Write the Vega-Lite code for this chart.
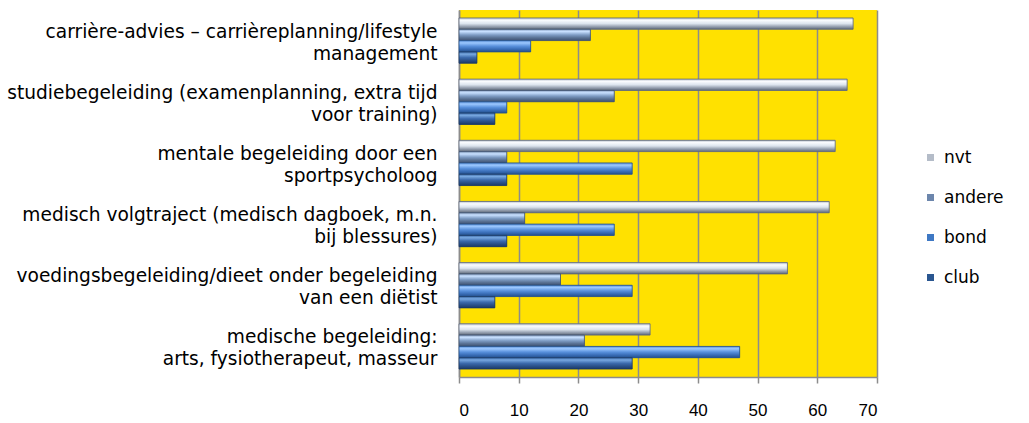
{
  "$schema": "https://vega.github.io/schema/vega-lite/v6.json",
  "autosize": "none",
  "width": 418,
  "height": 367,
  "padding": {"left": 459, "top": 10, "right": 152, "bottom": 46},
  "background": "white",
  "config": {
    "font": "Liberation Sans",
    "view": {"fill": "#FFE100", "stroke": null}
  },
  "data": {
    "values": [
      {"cat": "carrière-advies – carrièreplanning/lifestyle|management", "serie": "nvt", "waarde": 66},
      {"cat": "carrière-advies – carrièreplanning/lifestyle|management", "serie": "andere", "waarde": 22},
      {"cat": "carrière-advies – carrièreplanning/lifestyle|management", "serie": "bond", "waarde": 12},
      {"cat": "carrière-advies – carrièreplanning/lifestyle|management", "serie": "club", "waarde": 3},
      {"cat": "studiebegeleiding (examenplanning, extra tijd|voor training)", "serie": "nvt", "waarde": 65},
      {"cat": "studiebegeleiding (examenplanning, extra tijd|voor training)", "serie": "andere", "waarde": 26},
      {"cat": "studiebegeleiding (examenplanning, extra tijd|voor training)", "serie": "bond", "waarde": 8},
      {"cat": "studiebegeleiding (examenplanning, extra tijd|voor training)", "serie": "club", "waarde": 6},
      {"cat": "mentale begeleiding door een|sportpsycholoog", "serie": "nvt", "waarde": 63},
      {"cat": "mentale begeleiding door een|sportpsycholoog", "serie": "andere", "waarde": 8},
      {"cat": "mentale begeleiding door een|sportpsycholoog", "serie": "bond", "waarde": 29},
      {"cat": "mentale begeleiding door een|sportpsycholoog", "serie": "club", "waarde": 8},
      {"cat": "medisch volgtraject (medisch dagboek, m.n.|bij blessures)", "serie": "nvt", "waarde": 62},
      {"cat": "medisch volgtraject (medisch dagboek, m.n.|bij blessures)", "serie": "andere", "waarde": 11},
      {"cat": "medisch volgtraject (medisch dagboek, m.n.|bij blessures)", "serie": "bond", "waarde": 26},
      {"cat": "medisch volgtraject (medisch dagboek, m.n.|bij blessures)", "serie": "club", "waarde": 8},
      {"cat": "voedingsbegeleiding/dieet onder begeleiding|van een diëtist", "serie": "nvt", "waarde": 55},
      {"cat": "voedingsbegeleiding/dieet onder begeleiding|van een diëtist", "serie": "andere", "waarde": 17},
      {"cat": "voedingsbegeleiding/dieet onder begeleiding|van een diëtist", "serie": "bond", "waarde": 29},
      {"cat": "voedingsbegeleiding/dieet onder begeleiding|van een diëtist", "serie": "club", "waarde": 6},
      {"cat": "medische begeleiding:|arts, fysiotherapeut, masseur", "serie": "nvt", "waarde": 32},
      {"cat": "medische begeleiding:|arts, fysiotherapeut, masseur", "serie": "andere", "waarde": 21},
      {"cat": "medische begeleiding:|arts, fysiotherapeut, masseur", "serie": "bond", "waarde": 47},
      {"cat": "medische begeleiding:|arts, fysiotherapeut, masseur", "serie": "club", "waarde": 29}
    ]
  },
  "encoding": {
    "y": {
      "field": "cat",
      "type": "nominal",
      "sort": null,
      "title": null,
      "scale": {"paddingInner": 0.26, "paddingOuter": 0.13},
      "axis": {
        "labelExpr": "split(datum.label, '|')",
        "labelFont": "DejaVu Sans",
        "labelFontSize": 18.6,
        "labelColor": "black",
        "labelLineHeight": 22,
        "labelLimit": 460,
        "labelOffset": -9,
        "ticks": false,
        "tickSize": 0,
        "labelPadding": 22,
        "domainColor": "#8C8C8C",
        "domainWidth": 1.5,
        "grid": false
      }
    },
    "yOffset": {"field": "serie", "type": "nominal", "sort": ["nvt", "andere", "bond", "club"]},
    "x": {
      "field": "waarde",
      "type": "quantitative",
      "title": null,
      "scale": {"domain": [0, 70], "nice": false},
      "axis": {
        "values": [0, 10, 20, 30, 40, 50, 60, 70],
        "labelFontSize": 17,
        "labelColor": "black",
        "labelPadding": 19,
        "tickSize": 6,
        "tickColor": "#8C8C8C",
        "tickWidth": 1.5,
        "domainColor": "#8C8C8C",
        "domainWidth": 1.5,
        "gridColor": "#8C8C8C",
        "gridWidth": 1.5,
        "gridOpacity": 1
      }
    }
  },
  "layer": [
    {
      "mark": {"type": "bar"},
      "encoding": {
        "color": {
          "field": "serie",
          "type": "nominal",
          "sort": ["nvt", "andere", "bond", "club"],
          "scale": {"domain": ["nvt", "andere", "bond", "club"], "range": ["#B4BCC8", "#6C86AC", "#3E78C4", "#2A5690"]},
          "legend": {
            "title": null,
            "orient": "none",
            "legendX": 463,
            "legendY": 139,
            "symbolType": "square",
            "symbolSize": 49,
            "symbolStrokeWidth": 0,
            "labelFont": "DejaVu Sans",
            "labelFontSize": 17,
            "labelColor": "black",
            "rowPadding": 22,
            "padding": 0,
            "labelOffset": 5
          }
        }
      }
    },
    {
      "transform": [{"filter": "datum.serie === 'nvt'"}],
      "mark": {"type": "bar", "stroke": "#5A6478", "strokeWidth": 0.8, "color": {"gradient": "linear", "x1": 0, "y1": 0, "x2": 0, "y2": 1, "stops": [{"offset": 0, "color": "#B8C0CC"}, {"offset": 0.2, "color": "#FAFCFF"}, {"offset": 0.5, "color": "#DCE4EE"}, {"offset": 0.75, "color": "#9AA4B4"}, {"offset": 1, "color": "#5E6878"}]}}
    },
    {
      "transform": [{"filter": "datum.serie === 'andere'"}],
      "mark": {"type": "bar", "stroke": "#3E5070", "strokeWidth": 0.8, "color": {"gradient": "linear", "x1": 0, "y1": 0, "x2": 0, "y2": 1, "stops": [{"offset": 0, "color": "#8AA0C0"}, {"offset": 0.2, "color": "#C8E0FF"}, {"offset": 0.5, "color": "#7E9CC4"}, {"offset": 0.75, "color": "#5A7294"}, {"offset": 1, "color": "#3E5070"}]}}
    },
    {
      "transform": [{"filter": "datum.serie === 'bond'"}],
      "mark": {"type": "bar", "stroke": "#24508C", "strokeWidth": 0.8, "color": {"gradient": "linear", "x1": 0, "y1": 0, "x2": 0, "y2": 1, "stops": [{"offset": 0, "color": "#5A90D8"}, {"offset": 0.2, "color": "#9CC8FF"}, {"offset": 0.5, "color": "#5890DC"}, {"offset": 0.75, "color": "#3A6EB8"}, {"offset": 1, "color": "#24508C"}]}}
    },
    {
      "transform": [{"filter": "datum.serie === 'club'"}],
      "mark": {"type": "bar", "stroke": "#1C3A66", "strokeWidth": 0.8, "color": {"gradient": "linear", "x1": 0, "y1": 0, "x2": 0, "y2": 1, "stops": [{"offset": 0, "color": "#3C6AA8"}, {"offset": 0.2, "color": "#78A8E0"}, {"offset": 0.5, "color": "#3C6AAC"}, {"offset": 0.75, "color": "#2A5088"}, {"offset": 1, "color": "#1C3A66"}]}}
    }
  ]
}
